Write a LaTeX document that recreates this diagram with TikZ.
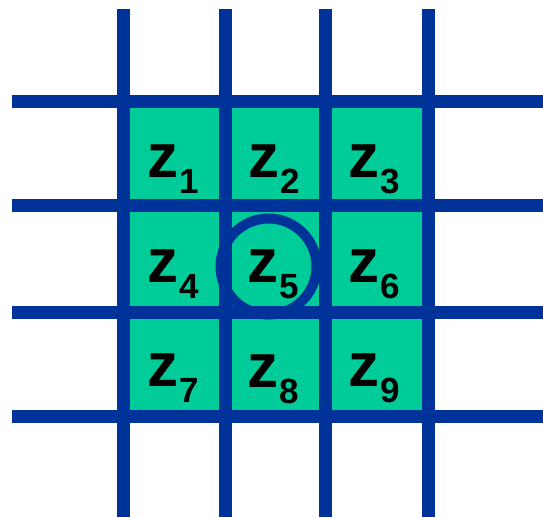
\documentclass[tikz,border=0pt]{standalone}
\usepackage{fontspec}
\setmainfont{Liberation Sans}
\definecolor{gridblue}{HTML}{003399}
\definecolor{cellgreen}{HTML}{00CC99}
\newcommand{\zlab}[1]{{\fontsize{62}{62}\selectfont\bfseries z}\hspace{1pt}\raisebox{-16pt}{\fontsize{35}{35}\selectfont\bfseries #1}}
\begin{document}
\begin{tikzpicture}[x=1pt,y=-1pt,
  gridline/.style={draw=gridblue,line width=13pt},
  zlabel/.style={anchor=base west,inner sep=0pt,text=black},
  ring/.style={circle,draw=gridblue,line width=10pt,minimum size=96pt,inner sep=0pt}]
\useasboundingbox (0,0) rectangle (543,517);
\fill[cellgreen] (123.5,101.5) rectangle (428.5,416);
% grid lines
\foreach \x in {123.5,225,325.5,428.5} \draw[gridline] (\x,9) -- (\x,517);
\foreach \y in {101.5,205.5,312,416} \draw[gridline] (12,\y) -- (543,\y);
% circle
\node[ring] (c5) at (268.5,266.5) {};
% labels
\node[zlabel] (z1) at (147,177) {\zlab{1}};
\node[zlabel] (z2) at (248,177) {\zlab{2}};
\node[zlabel] (z3) at (348.5,177) {\zlab{3}};
\node[zlabel] (z4) at (147,282) {\zlab{4}};
\node[zlabel] (z5) at (247,282) {\zlab{5}};
\node[zlabel] (z6) at (348.5,282) {\zlab{6}};
\node[zlabel] (z7) at (147,386) {\zlab{7}};
\node[zlabel] (z8) at (247,387) {\zlab{8}};
\node[zlabel] (z9) at (348.5,386) {\zlab{9}};
\end{tikzpicture}
\end{document}
